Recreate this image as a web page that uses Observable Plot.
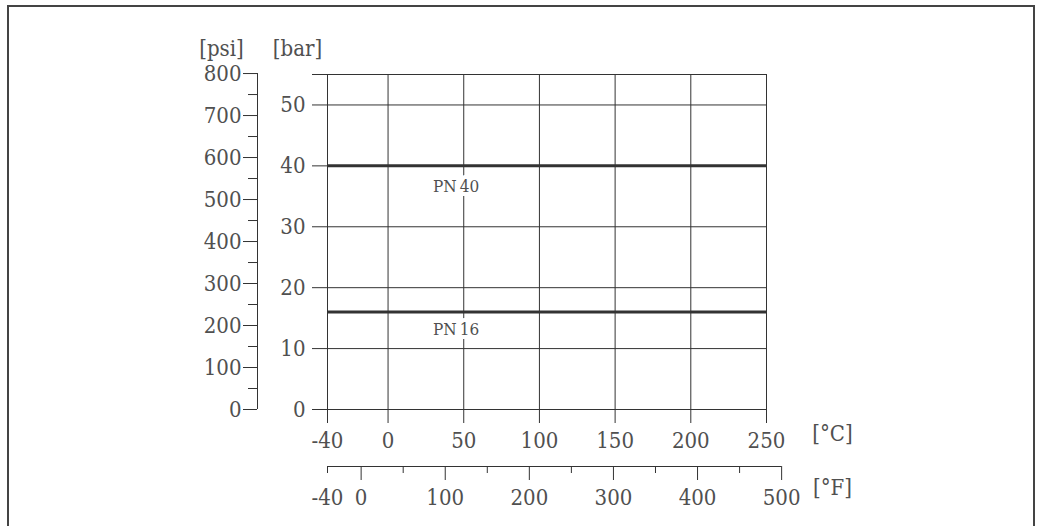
<!DOCTYPE html>
<html><head><meta charset="utf-8">
<script src="https://cdn.jsdelivr.net/npm/d3@7"></script>
<script src="https://cdn.jsdelivr.net/npm/@observablehq/plot@0.6"></script>
<style>
body{margin:0;background:#fff;overflow:hidden;}
#wrap{position:relative;width:1042px;height:526px;}
#chart{position:absolute;left:0;top:0;}
#border{position:absolute;left:7px;top:5px;width:1024px;height:600px;border:2px solid #444;pointer-events:none;}
</style></head><body>
<div id="wrap"><div id="chart"></div><div id="border"></div></div>
<script>
// ---- data ----
const tempTicksC = [-40, 0, 50, 100, 150, 200, 250];
const tempDomainC = [-40, 250];
const barTicks = [0, 10, 20, 30, 40, 50];
const barMax = 55;
const psiMajor = [0, 100, 200, 300, 400, 500, 600, 700, 800];
const psiMinor = [50, 150, 250, 350, 450, 550, 650, 750];
const fMajor = [0, 100, 200, 300, 400, 500];
const fMinor = [-40, 50, 150, 250, 350, 450];
const fLabels = [-40, 0, 100, 200, 300, 400, 500];
const fAxisEnds = [-40, 500];
const pnNames = ["PN\u200940", "PN\u200916"];
const pnBar = [40, 16];
const pnLabelTempC = 45;

const PSI_PER_BAR = 14.5038;
const psiToBar = p => p / PSI_PER_BAR;
const fToC = f => (f - 32) * 5 / 9;
const cToF = c => c * 9 / 5 + 32;
const pn = pnNames.map((name, i) => ({name, bar: pnBar[i]}));

const ink = "#333";
const txt = "#505050";
const fmt = d => `${d}`;

const chart = Plot.plot({
  width: 1042, height: 526,
  marginLeft: 327, marginRight: 276, marginTop: 74, marginBottom: 117,
  x: {domain: tempDomainC, label: null},
  y: {domain: [0, barMax], label: null},
  style: {fontFamily: "'DejaVu Serif Condensed', 'DejaVu Serif', serif", fontStretch: "condensed", fontSize: "22px", color: txt, background: "white"},
  marks: [
    Plot.gridX(tempTicksC, {stroke: ink, strokeOpacity: 1}),
    Plot.gridY([...barTicks, barMax], {stroke: ink, strokeOpacity: 1}),
    Plot.axisX(tempTicksC, {tickSize: 14, tickPadding: 9, tickFormat: fmt, stroke: ink, fill: txt, label: null}),
    Plot.axisY([...barTicks, barMax], {anchor: "left", tickSize: 15, tickPadding: 7, tickFormat: d => d === barMax ? "" : fmt(d), stroke: ink, fill: txt, label: null}),
    // psi axis
    Plot.ruleX([psiMajor[psiMajor.length - 1]], {x: () => tempDomainC[0], y1: () => 0, y2: p => psiToBar(p), dx: -70, stroke: ink}),
    Plot.axisY(psiMajor.map(psiToBar), {anchor: "left", dx: -70, tickSize: 14, tickPadding: 2, tickFormat: d => `${Math.round(d * PSI_PER_BAR)}`, stroke: ink, fill: txt, label: null}),
    Plot.axisY(psiMinor.map(psiToBar), {anchor: "left", dx: -70, tickSize: 9, fill: "none", stroke: ink, label: null}),
    // fahrenheit axis
    Plot.ruleY([0], {x1: () => fToC(fAxisEnds[0]), x2: () => fToC(fAxisEnds[1]), dy: 57, stroke: ink}),
    Plot.axisX(fMajor.map(fToC), {tickSize: 14, dy: 57, fill: "none", stroke: ink, label: null}),
    Plot.axisX(fMinor.map(fToC), {tickSize: 7, dy: 57, fill: "none", stroke: ink, label: null}),
    Plot.axisX(fLabels.map(fToC), {tickSize: 14, tickPadding: 9, dy: 57, stroke: "none", fill: txt, tickFormat: d => `${Math.round(cToF(d))}`, label: null}),
    // pressure ratings
    Plot.ruleY(pn, {y: "bar", stroke: ink, strokeWidth: 3}),
    Plot.text([pn[0]], {x: () => pnLabelTempC, y: "bar", text: "name", dy: 21, fontSize: 17, fill: txt, stroke: "white", strokeWidth: 8}),
    Plot.text([pn[1]], {x: () => pnLabelTempC, y: "bar", text: "name", dy: 18, fontSize: 17, fill: txt, stroke: "white", strokeWidth: 8}),
    // unit labels
    Plot.text(["[bar]"], {text: d => d, frameAnchor: "top-left", dx: -30, dy: -34, textAnchor: "middle", fill: txt}),
    Plot.text(["[psi]"], {text: d => d, frameAnchor: "top-left", dx: -106, dy: -34, textAnchor: "middle", fill: txt}),
    Plot.text(["[°C]"], {text: d => d, frameAnchor: "bottom-right", dx: 66, dy: 31, textAnchor: "middle", fill: txt}),
    Plot.text(["[°F]"], {text: d => d, frameAnchor: "bottom-right", dx: 66, dy: 85, textAnchor: "middle", fill: txt})
  ]
});
document.getElementById("chart").appendChild(chart);
</script>
</body></html>
